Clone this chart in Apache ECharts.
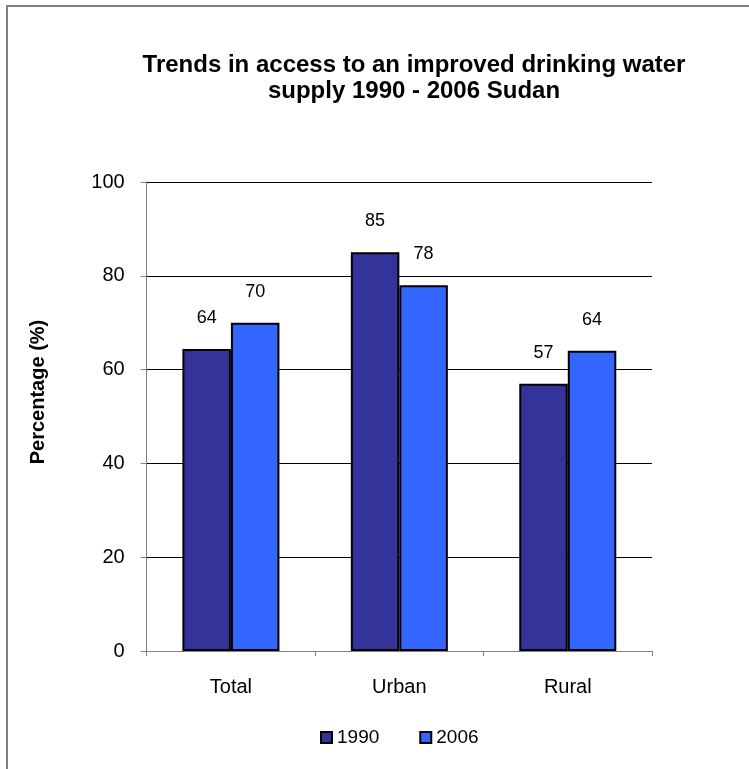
<!DOCTYPE html>
<html>
<head>
<meta charset="utf-8">
<script src="https://cdn.jsdelivr.net/npm/echarts@6/dist/echarts.min.js"></script>
<style>
html,body{margin:0;padding:0;background:#fff;}
#chart{width:749px;height:769px;}
</style>
</head>
<body>
<div id="chart"></div>
<script>
var categories = ['Total', 'Urban', 'Rural'];
var seriesNames = ['1990', '2006'];
var values1990 = [64.4, 85, 57];
var values2006 = [70, 78, 64];
var yTicks = [0, 20, 40, 60, 80, 100];

var FONT = '"Liberation Sans", Arial, sans-serif';
var chart = echarts.init(document.getElementById('chart'), null, {renderer: 'canvas'});

function barSeries(name, data, color) {
  return {
    name: name,
    type: 'bar',
    data: data,
    barGap: '0%',
    barCategoryGap: '42.4%',
    itemStyle: {color: color, borderColor: '#000', borderWidth: 2},
    label: {
      show: true,
      position: 'top',
      distance: 22,
      color: '#000',
      fontSize: 18,
      fontFamily: FONT,
      formatter: function (p) { return Math.round(p.value); }
    },
    emphasis: {disabled: true},
    animation: false
  };
}

chart.setOption({
  backgroundColor: '#fff',
  animation: false,
  title: {
    text: 'Trends in access to an improved drinking water\nsupply 1990 - 2006 Sudan',
    left: 414,
    top: 52,
    textAlign: 'center',
    padding: 0,
    textStyle: {fontFamily: FONT, fontSize: 24, fontWeight: 'bold', color: '#000', lineHeight: 26}
  },
  legend: {
    data: seriesNames,
    left: 320,
    top: 728,
    itemWidth: 11,
    itemHeight: 11,
    itemGap: 40,
    icon: 'rect',
    padding: 0,
    textStyle: {fontFamily: FONT, fontSize: 19, color: '#000', padding: [0, 0, 0, 0]}
  },
  grid: {left: 146.7, right: 97, top: 182, bottom: 118, containLabel: false},
  xAxis: {
    type: 'category',
    data: categories,
    axisLine: {show: true, lineStyle: {color: '#808080', width: 1}},
    axisTick: {show: true, length: 5, alignWithLabel: false, lineStyle: {color: '#808080'}},
    axisLabel: {fontFamily: FONT, fontSize: 20, color: '#000', margin: 26},
    splitLine: {show: false}
  },
  yAxis: {
    type: 'value',
    min: yTicks[0],
    max: yTicks[yTicks.length - 1],
    interval: yTicks[1] - yTicks[0],
    axisLine: {show: true, lineStyle: {color: '#808080', width: 1}},
    axisTick: {show: true, length: 6, inside: false, lineStyle: {color: '#808080'}},
    axisLabel: {fontFamily: FONT, fontSize: 20, color: '#000', margin: 22},
    splitLine: {show: true, lineStyle: {color: '#000', width: 1}}
  },
  graphic: [
    {
      type: 'rect',
      silent: true,
      shape: {x: 7, y: 6, width: 1200, height: 1200},
      style: {fill: 'none', stroke: '#808080', lineWidth: 2},
      z: -1
    },
    {
      type: 'text',
      silent: true,
      x: 38,
      y: 392,
      rotation: Math.PI / 2,
      style: {
        text: 'Percentage (%)',
        font: 'bold 20px ' + FONT,
        fill: '#000',
        align: 'center',
        verticalAlign: 'middle'
      }
    }
  ],
  series: [
    barSeries(seriesNames[0], values1990, '#333399'),
    barSeries(seriesNames[1], values2006, '#3366FF')
  ]
});
</script>
</body>
</html>
